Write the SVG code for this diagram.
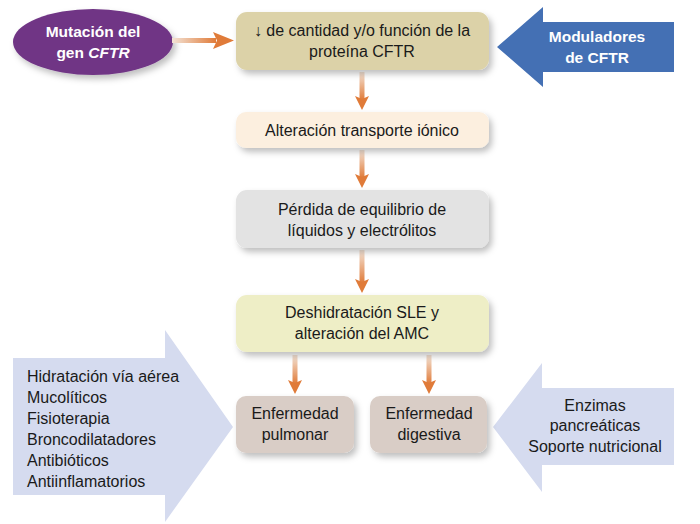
<svg xmlns="http://www.w3.org/2000/svg" width="700" height="524" viewBox="0 0 700 524">
<defs>
<filter id="sh" x="-20%" y="-30%" width="150%" height="170%">
<feDropShadow dx="3" dy="4" stdDeviation="3" flood-color="#000" flood-opacity="0.25"/>
</filter>
<linearGradient id="gv" x1="0" y1="0" x2="0" y2="1">
<stop offset="0" stop-color="#f3e3d6"/>
<stop offset="1" stop-color="#e07b39"/>
</linearGradient>
<linearGradient id="gh" x1="0" y1="0" x2="1" y2="0">
<stop offset="0" stop-color="#f3e3d6"/>
<stop offset="1" stop-color="#e07b39"/>
</linearGradient>
</defs>
<style>
.t{font-family:"Liberation Sans",Arial,sans-serif;font-size:16px;fill:#1a1a1a}
.c{text-anchor:middle}
.w{font-family:"Liberation Sans",Arial,sans-serif;font-size:15.5px;font-weight:bold;fill:#fff;text-anchor:middle}
.box{filter:url(#sh)}
.head{fill:#e07b39}
</style>
<rect width="700" height="524" fill="#fff"/>

<g id="tratamiento-pulmonar">
<polygon points="13,358 165,358 165,330 233,427 165,522 165,495 13,495" fill="#d5dbef"/>
<text class="t" x="27" y="382">Hidratación vía aérea</text>
<text class="t" x="27" y="403">Mucolíticos</text>
<text class="t" x="27" y="424">Fisioterapia</text>
<text class="t" x="27" y="445">Broncodilatadores</text>
<text class="t" x="27" y="466">Antibióticos</text>
<text class="t" x="27" y="487">Antiinflamatorios</text>
</g>

<g id="tratamiento-digestivo">
<polygon points="674,388 542,388 542,363 493,427 542,492 542,465 674,465" fill="#d5dbef"/>
<text class="t c" x="595" y="411">Enzimas</text>
<text class="t c" x="595" y="431">pancreáticas</text>
<text class="t c" x="595" y="452">Soporte nutricional</text>
</g>

<g id="moduladores">
<polygon points="674,22 543,22 543,7 497,47 543,87 543,72 674,72" fill="#4470b4"/>
<text class="w" x="597" y="42">Moduladores</text>
<text class="w" x="597" y="63">de CFTR</text>
</g>

<g id="mutacion">
<ellipse cx="93" cy="42" rx="80" ry="33" fill="#703585" class="box"/>
<text class="w" x="93" y="37">Mutación del</text>
<text class="w" x="93" y="58">gen <tspan font-style="italic">CFTR</tspan></text>
</g>

<g id="connectors">
<rect x="172" y="38" width="44" height="5" fill="url(#gh)"/>
<polygon class="head" points="213,32 234,40.5 213,49 217,40.5"/>
<rect x="359.5" y="72" width="5" height="28" fill="url(#gv)"/>
<polygon class="head" points="355,96 362,110 369,96 362,99"/>
<rect x="359.5" y="150" width="5" height="28" fill="url(#gv)"/>
<polygon class="head" points="355,174 362,188 369,174 362,177"/>
<rect x="359.5" y="250" width="5" height="33" fill="url(#gv)"/>
<polygon class="head" points="355,279 362,293 369,279 362,282"/>
<rect x="292.5" y="355" width="5" height="29" fill="url(#gv)"/>
<polygon class="head" points="288,380 295,394 302,380 295,383"/>
<rect x="426.5" y="355" width="5" height="29" fill="url(#gv)"/>
<polygon class="head" points="422,380 429,394 436,380 429,383"/>
</g>

<g id="cantidad">
<rect class="box" x="236" y="12" width="253" height="58" rx="11" fill="#dcd2a8"/>
<text class="t c" x="362" y="36">↓ de cantidad y/o función de la</text>
<text class="t c" x="362" y="57">proteína CFTR</text>
</g>

<g id="transporte">
<rect class="box" x="236" y="112" width="253" height="36" rx="10" fill="#fcefdf"/>
<text class="t c" x="362" y="136">Alteración transporte iónico</text>
</g>

<g id="equilibrio">
<rect class="box" x="236" y="190" width="253" height="58" rx="11" fill="#e3e3e3"/>
<text class="t c" x="362" y="215">Pérdida de equilibrio de</text>
<text class="t c" x="362" y="236">líquidos y electrólitos</text>
</g>

<g id="deshidratacion">
<rect class="box" x="236" y="295" width="253" height="57" rx="11" fill="#eeeec6"/>
<text class="t c" x="362" y="318">Deshidratación SLE y</text>
<text class="t c" x="362" y="339">alteración del AMC</text>
</g>

<g id="pulmonar">
<rect class="box" x="236" y="396" width="118" height="57" rx="10" fill="#d9cdc6"/>
<text class="t c" x="295" y="419">Enfermedad</text>
<text class="t c" x="295" y="440">pulmonar</text>
</g>

<g id="digestiva">
<rect class="box" x="370" y="396" width="117" height="57" rx="10" fill="#d9cdc6"/>
<text class="t c" x="429" y="419">Enfermedad</text>
<text class="t c" x="429" y="440">digestiva</text>
</g>
</svg>
